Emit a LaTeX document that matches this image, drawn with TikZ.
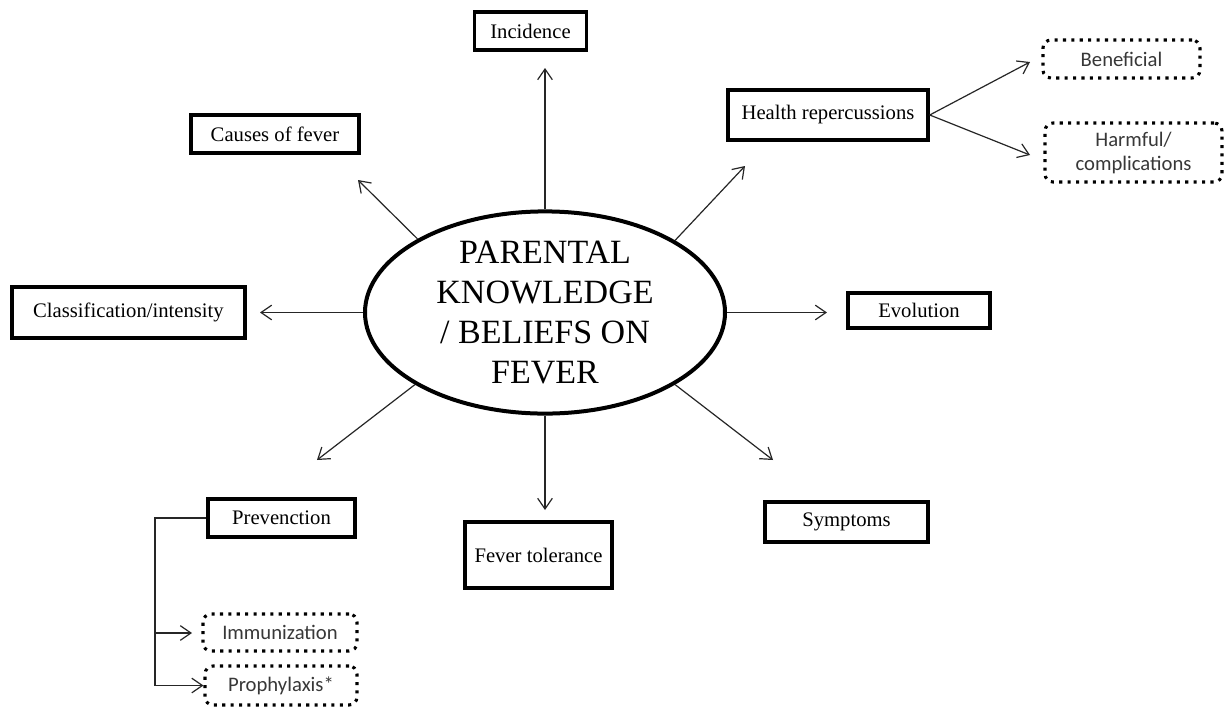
\documentclass[tikz,border=0pt]{standalone}
\usepackage{fontspec}
\setmainfont{Liberation Serif}
\newfontfamily\calib{Carlito}
\usetikzlibrary{arrows.meta,shapes.geometric}
\begin{document}
\begin{tikzpicture}[x=0.75pt,y=-0.75pt,
  box/.style={draw=black,line width=2.6pt,rectangle,inner sep=0pt,align=center,font=\fontsize{15.5}{18}\selectfont},
  dbox/.style={draw=black,line width=2.3pt,dash pattern=on 2.3pt off 4pt,rounded corners=6pt,rectangle,inner sep=0pt,align=center,text=black!78,font=\calib\fontsize{15.5}{18}\selectfont},
  arr/.style={draw=black!85,line width=0.9pt,-{Straight Barb[length=8pt,width=11pt,line width=0.9pt]}},
  conn/.style={draw=black!85,line width=0.9pt}]
\useasboundingbox[fill=white] (0,0) rectangle (1225,711);
% central ellipse
\node[ellipse,draw=black,line width=3pt,minimum width=270pt,minimum height=137pt,inner sep=0pt,align=center,
  font=\fontsize{25.5}{30}\selectfont] (ell) at (545,312.5) {PARENTAL\\KNOWLEDGE\\/ BELIEFS ON\\FEVER};
% boxes
\node[box,minimum width=84pt,minimum height=28.5pt] (inc) at (530.5,31) {Incidence};
\node[box,minimum width=126pt,minimum height=28.5pt] (cause) at (275,134) {Causes of fever};
\node[box,minimum width=150pt,minimum height=37.5pt] (health) at (828,115) {Health repercussions};
\node[dbox,minimum width=117.75pt,minimum height=28.5pt] (benef) at (1121.5,59) {Beneficial};
\node[dbox,minimum width=132.75pt,minimum height=44.25pt] (harm) at (1133.5,152.5) {Harmful/\\complications};
\node[box,minimum width=174.75pt,minimum height=38.25pt] (class) at (128.5,312.5) {Classification/intensity};
\node[box,minimum width=106.5pt,minimum height=26.25pt] (evol) at (919,310.5) {Evolution};
\node[box,minimum width=110.25pt,minimum height=28.5pt] (prev) at (281.5,518) {Prevenction};
\node[box,minimum width=110.25pt,minimum height=49.5pt] (fevtol) at (538.5,555) {Fever tolerance};
\node[box,minimum width=122.25pt,minimum height=30pt] (sympt) at (846.5,522) {Symptoms};
\node[dbox,minimum width=115.5pt,minimum height=27.75pt] (immun) at (280,632.5) {Immunization};
\node[dbox,minimum width=114pt,minimum height=29.25pt] (proph) at (281,685.5) {Prophylaxis*};
% arrow tips
\coordinate (tInc) at (545,68);
\coordinate (tCause) at (358,180);
\coordinate (tHealth) at (745,166);
\coordinate (tClass) at (260,312.5);
\coordinate (tEvol) at (827,312.5);
\coordinate (tPrev) at (317,460);
\coordinate (tFev) at (545,510);
\coordinate (tSym) at (773,460);
\coordinate (tBen) at (1030,62);
\coordinate (tHarm) at (1030,155);
\coordinate (pl) at (155,518);
\coordinate (ib) at (155,633);
\coordinate (tImm) at (192,633);
% connectors
\draw[arr] (ell.90) -- (tInc);
\draw[arr] (ell.150.5) -- (tCause);
\draw[arr] (ell.29.5) -- (tHealth);
\draw[arr] (ell.180) -- (tClass);
\draw[arr] (ell.0) -- (tEvol);
\draw[arr] (ell.209.5) -- (tPrev);
\draw[arr] (ell.270) -- (tFev);
\draw[arr] (ell.-29.5) -- (tSym);
\draw[arr] (health.east) -- (tBen);
\draw[arr] (health.east) -- (tHarm);
\draw[conn] (prev.west) -- (pl) -- (ib);
\draw[arr] (ib) -- (tImm);
\draw[arr] (ib) |- (proph.west);
\end{tikzpicture}
\end{document}
